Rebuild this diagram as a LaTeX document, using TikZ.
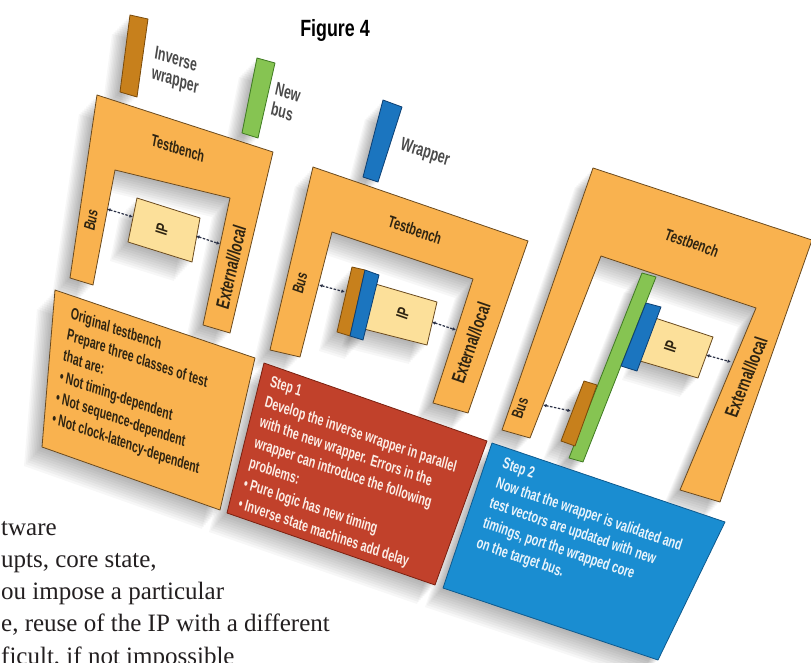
\documentclass[tikz,border=0pt]{standalone}
\usepackage{fontspec}
\setmainfont{Liberation Sans}
\newfontfamily\condfont[FakeStretch=0.68]{Liberation Sans}
\newfontfamily\figfont[FakeStretch=0.76]{Liberation Sans}
\newfontfamily\bodyfont{Liberation Serif}
\usetikzlibrary{arrows.meta}
\definecolor{orF}{HTML}{F9B24F}
\definecolor{orD}{HTML}{6A4A1F}
\definecolor{ipF}{HTML}{FCE09A}
\definecolor{brF}{HTML}{C7801C}
\definecolor{brD}{HTML}{7A4A0A}
\definecolor{grF}{HTML}{86C452}
\definecolor{grD}{HTML}{3F7A22}
\definecolor{blF}{HTML}{1B75BF}
\definecolor{blD}{HTML}{0C3F73}
\definecolor{redF}{HTML}{C1412B}
\definecolor{redD}{HTML}{7A2010}
\definecolor{bxF}{HTML}{1A8DD1}
\definecolor{bxD}{HTML}{0E5A8E}
\definecolor{connC}{HTML}{2A3045}
\definecolor{txtD}{HTML}{2E2412}
\definecolor{txtR}{HTML}{FBEDE6}
\definecolor{txtB}{HTML}{EAF4FB}
\definecolor{legC}{HTML}{4A4A4A}
\definecolor{bodyC}{HTML}{231F20}
\newcommand\dropshade[1]{\foreach \k in {1,...,10}{\fill[black,opacity=0.03,shift={(-1.8*\k,1.9*\k)}] #1;}}
\tikzset{
  shp/.style={line width=0.8pt, line join=round},
  orshape/.style={shp, fill=orF, draw=orD},
  ipshape/.style={shp, fill=ipF, draw=orD},
  brshape/.style={shp, fill=brF, draw=brD},
  grshape/.style={shp, fill=grF, draw=grD},
  blshape/.style={shp, fill=blF, draw=blD},
  redshape/.style={shp, fill=redF, draw=redD},
  bxshape/.style={shp, fill=bxF, draw=bxD},
  lab/.style={inner sep=0pt, font=\condfont\bfseries\fontsize{16.5}{20}\selectfont, text=txtD},
  vlab/.style={inner sep=0pt, font=\condfont\bfseries\fontsize{19}{24}\selectfont, text=txtD},
  buslab/.style={inner sep=0pt, font=\condfont\bfseries\fontsize{16}{20}\selectfont, text=txtD},
  iplab/.style={inner sep=0pt, font=\condfont\bfseries\fontsize{17}{20}\selectfont, text=txtD},
  boxtxt/.style={inner sep=0pt, align=left, anchor=north west, font=\condfont\bfseries\fontsize{16}{21}\selectfont},
  legtxt/.style={inner sep=0pt, align=left, anchor=north west, font=\condfont\bfseries\fontsize{18.5}{20}\selectfont, text=legC},
  body/.style={inner sep=0pt, anchor=base west, font=\bodyfont\fontsize{25}{32}\selectfont, text=bodyC},
  figtxt/.style={inner sep=0pt, anchor=base, font=\figfont\bfseries\fontsize{23.5}{28}\selectfont, text=black},
  conn/.style={draw=connC, line width=1.2pt, dash pattern=on 2.5pt off 1.5pt, arrows={Latex[length=3.5pt,width=3.5pt]-Latex[length=3.5pt,width=3.5pt]}}
}
\begin{document}
\begin{tikzpicture}[x=1pt,y=-1pt]
\useasboundingbox (0,0) rectangle (811,663);
\fill[white] (0,0) rectangle (811,663);
\begin{scope}
\clip (0,0) rectangle (811,663);

% ---------- body text (page text, cut at left) ----------
\node[body] (b1) at (1,535) {tware};
\node[body] (b2) at (1,567) {upts, core state,};
\node[body] (b3) at (1,599) {ou impose a particular};
\node[body] (b4) at (1,631) {e, reuse of the IP with a different};
\node[body] (b5) at (1,664) {ficult, if not impossible};

% ---------- title ----------
\node[figtxt] (fig) at (335,37) {Figure 4};

% ---------- shadows ----------
\dropshade{(130,15) -- (148,19) -- (137,97) -- (120,92) -- cycle}
\dropshade{(257,58) -- (275,63) -- (258,138) -- (242,133) -- cycle}
\dropshade{(383,100) -- (402,107) -- (378,182) -- (363,177) -- cycle}
\dropshade{(97,95) -- (273,152) -- (230,333) -- (203,325) -- (230,198) -- (115,170) -- (93,285) -- (70,278) -- cycle}
\dropshade{(137,198) -- (200,218) -- (192,262) -- (128,242) -- cycle}
\dropshade{(55,290) -- (255,358) -- (220,510) -- (42,447) -- cycle}
\dropshade{(313,167) -- (528,241) -- (468,413) -- (433,403) -- (473,279) -- (332,232) -- (300,357) -- (270,350) -- cycle}
\dropshade{(352,267) -- (379,275) -- (363,340) -- (337,332) -- cycle}
\dropshade{(372,283) -- (437,302) -- (427,345) -- (360,328) -- cycle}
\dropshade{(264,363) -- (487,441) -- (435,585) -- (227,513) -- cycle}
\dropshade{(593,168) -- (812,240) -- (720,502) -- (680,490) -- (756,308) -- (601,256) -- (530,438) -- (502,430) -- cycle}
\dropshade{(642,273) -- (656,277) -- (583,462) -- (569,458) -- cycle}
\dropshade{(655,318) -- (713,337) -- (698,378) -- (640,361) -- cycle}
\dropshade{(584,381) -- (597,385) -- (575,446) -- (561,441) -- cycle}
\dropshade{(492,443) -- (725,522) -- (658,660) -- (443,588) -- cycle}

% ---------- legend ----------
\filldraw[brshape] (130,15) -- (148,19) -- (137,97) -- (120,92) -- cycle;
\node[legtxt, rotate=-18.5, xslant=-0.17] (leg1) at (156,45) {Inverse\\wrapper};
\filldraw[grshape] (257,58) -- (275,63) -- (258,138) -- (242,133) -- cycle;
\node[legtxt, rotate=-18.5, xslant=-0.11] (leg2) at (277,82) {New\\bus};
\filldraw[blshape] (383,100) -- (402,107) -- (378,182) -- (363,177) -- cycle;
\node[legtxt, rotate=-18.5, xslant=-0.05] (leg3) at (403,137) {Wrapper};

% ---------- panel 1 : original testbench ----------
\filldraw[orshape] (97,95) -- (273,152) -- (230,333) -- (203,325) -- (230,198) -- (115,170) -- (93,285) -- (70,278) -- cycle;
\filldraw[ipshape] (137,198) -- (200,218) -- (192,262) -- (128,242) -- cycle;
\node[lab, rotate=-18, xslant=-0.14] (tb1) at (178,148) {Testbench};
\node[buslab, rotate=-18, xslant=-0.15, rotate=90] (bus1) at (91,220) {Bus};
\node[vlab, rotate=-18, xslant=-0.10, rotate=90] (ext1) at (231,267) {External/local};
\node[iplab, rotate=-18, xslant=-0.12, rotate=90] (ip1) at (162,229) {IP};
\coordinate (c1a) at (107,209);
\coordinate (c1b) at (133,217);
\coordinate (c1c) at (196,236);
\coordinate (c1d) at (220,244);
\draw[conn] (c1a) -- (c1b);
\draw[conn] (c1c) -- (c1d);
\filldraw[orshape] (55,290) -- (255,358) -- (220,510) -- (42,447) -- cycle;
\node[boxtxt, text=txtD, rotate=-19, xslant=-0.158] (box1) at (72,307)
  {Original testbench\\Prepare three classes of test\\that are:\\%
   \textbullet\,Not timing-dependent\\\textbullet\,Not sequence-dependent\\\textbullet\,Not clock-latency-dependent};

% ---------- panel 2 : step 1 ----------
\filldraw[orshape] (313,167) -- (528,241) -- (468,413) -- (433,403) -- (473,279) -- (332,232) -- (300,357) -- (270,350) -- cycle;
\filldraw[ipshape] (372,283) -- (437,302) -- (427,345) -- (360,328) -- cycle;
\filldraw[brshape] (352,267) -- (365,270) -- (350,336) -- (337,332) -- cycle;
\filldraw[blshape] (365,270) -- (379,275) -- (363,340) -- (350,336) -- cycle;
\node[lab, rotate=-19, xslant=-0.04] (tb2) at (415,230) {Testbench};
\node[buslab, rotate=-19, xslant=-0.087, rotate=90] (bus2) at (300,283) {Bus};
\node[vlab, rotate=-19, xslant=0, rotate=90] (ext2) at (471,343) {External/local};
\node[iplab, rotate=-19, xslant=-0.035, rotate=90] (ip2) at (403,313) {IP};
\coordinate (c2a) at (319,285);
\coordinate (c2b) at (345,292);
\coordinate (c2c) at (432,322);
\coordinate (c2d) at (456,330);
\draw[conn] (c2a) -- (c2b);
\draw[conn] (c2c) -- (c2d);
\filldraw[redshape] (264,363) -- (487,441) -- (435,585) -- (227,513) -- cycle;
\node[boxtxt, text=txtR, rotate=-19, xslant=-0.079] (box2) at (272,375)
  {Step 1\\Develop the inverse wrapper in parallel\\with the new wrapper. Errors in the\\wrapper can introduce the following\\problems:\\%
   \textbullet\,Pure logic has new timing\\\textbullet\,Inverse state machines add delay};

% ---------- panel 3 : step 2 ----------
\filldraw[orshape] (593,168) -- (812,240) -- (720,502) -- (680,490) -- (756,308) -- (601,256) -- (530,438) -- (502,430) -- cycle;
\filldraw[ipshape] (655,318) -- (713,337) -- (698,378) -- (640,361) -- cycle;
\filldraw[grshape] (642,273) -- (656,277) -- (583,462) -- (569,458) -- cycle;
\filldraw[blshape] (646,303) -- (661,307) -- (637,371) -- (621,366) -- cycle;
\filldraw[brshape] (584,381) -- (597,385) -- (575,446) -- (561,441) -- cycle;
\node[lab, rotate=-18.5, xslant=0.04] (tb3) at (692,243) {Testbench};
\node[buslab, rotate=-18.5, xslant=0.026, rotate=90] (bus3) at (520,408) {Bus};
\node[vlab, rotate=-18.5, xslant=0.061, rotate=90] (ext3) at (746,377) {External/local};
\node[iplab, rotate=-18.5, xslant=0.045, rotate=90] (ip3) at (671,347) {IP};
\coordinate (c3a) at (543,405);
\coordinate (c3b) at (571,411);
\coordinate (c3c) at (706,355);
\coordinate (c3d) at (731,362);
\draw[conn] (c3a) -- (c3b);
\draw[conn] (c3c) -- (c3d);
\filldraw[bxshape] (492,443) -- (725,522) -- (658,660) -- (443,588) -- cycle;
\node[boxtxt, text=txtB, rotate=-18.7, xslant=-0.01] (box3) at (505,457)
  {Step 2\\Now that the wrapper is validated and\\test vectors are updated with new\\timings, port the wrapped core\\on the target bus.};
\end{scope}
\end{tikzpicture}
\end{document}
